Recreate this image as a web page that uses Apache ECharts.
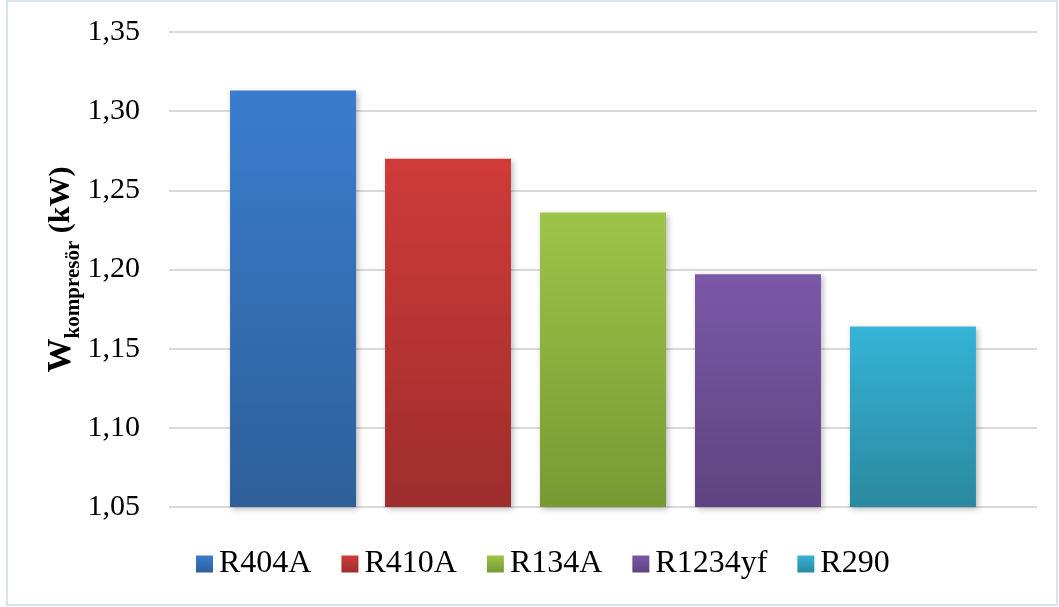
<!DOCTYPE html>
<html>
<head>
<meta charset="utf-8">
<script src="https://cdn.jsdelivr.net/npm/echarts@6/dist/echarts.min.js"></script>
<style>
  html, body { margin: 0; padding: 0; background: #fff; }
  #chart { width: 1059px; height: 607px; }
</style>
</head>
<body>
<div id="chart"></div>
<script>
// Refrigerants compared and their compressor power (kW)
const refrigerants = ['R404A', 'R410A', 'R134A', 'R1234yf', 'R290'];
const compressorPower = [1.313, 1.270, 1.236, 1.197, 1.164];
const yTicks = { min: 1.05, max: 1.35, step: 0.05 };

// Top and bottom shades of each bar's vertical gradient
const topColors = ['#3A7DCD', '#CF3B38', '#9CC548', '#7B58A8', '#36B3D6'];
const bottomColors = ['#2E5F9A', '#9E2D2D', '#779933', '#5E4380', '#2A89A0'];

const serif = 'Liberation Serif';

const series = refrigerants.map((name, i) => ({
  name: name,
  type: 'bar',
  data: [compressorPower[i]],
  barWidth: 126,
  barGap: '23%',
  itemStyle: {
    color: new echarts.graphic.LinearGradient(0, 0, 0, 1, [
      { offset: 0, color: topColors[i] },
      { offset: 1, color: bottomColors[i] }
    ]),
    shadowColor: 'rgba(0,0,0,0.28)',
    shadowBlur: 6,
    shadowOffsetX: 2,
    shadowOffsetY: 2
  }
}));

const chart = echarts.init(document.getElementById('chart'), null, { renderer: 'canvas' });
chart.setOption({
  animation: false,
  backgroundColor: '#fff',
  graphic: [{
    type: 'rect',
    shape: { x: 7, y: 1, width: 1050, height: 604 },
    style: { fill: 'none', stroke: '#D9E2F2', lineWidth: 2 },
    silent: true,
    z: -1
  }],
  grid: { left: 169, right: 22, top: 32, bottom: 100 },
  legend: {
    data: refrigerants,
    left: 196,
    top: 548,
    padding: 0,
    itemWidth: 17,
    itemHeight: 17,
    itemGap: 30,
    icon: 'rect',
    textStyle: { fontFamily: serif, fontSize: 32, color: '#000', padding: [0, 0, 0, 1] }
  },
  xAxis: {
    type: 'category',
    data: [''],
    axisLine: { show: false },
    axisTick: { show: false },
    axisLabel: { show: false }
  },
  yAxis: {
    type: 'value',
    min: yTicks.min,
    max: yTicks.max,
    interval: yTicks.step,
    axisLine: { show: false },
    axisTick: { show: false },
    axisLabel: {
      fontFamily: serif,
      fontSize: 30,
      color: '#000',
      margin: 29,
      formatter: v => v.toFixed(2).replace('.', ',')
    },
    splitLine: { lineStyle: { color: '#D9D9D9', width: 2 } },
    // W with subscript "kompresör", followed by the unit
    name: '{w|W}{s|kompresör}{u| (kW)}',
    nameLocation: 'middle',
    nameRotate: 90,
    nameGap: 88,
    nameMoveOverlap: false,
    nameTextStyle: {
      rich: {
        w: { fontFamily: serif, fontWeight: 'bold', fontSize: 34, color: '#000', lineHeight: 40, verticalAlign: 'middle' },
        s: { fontFamily: serif, fontWeight: 'bold', fontSize: 21, color: '#000', lineHeight: 40, verticalAlign: 'middle', padding: [26, 0, 0, 0] },
        u: { fontFamily: serif, fontWeight: 'bold', fontSize: 30, color: '#000', lineHeight: 40, verticalAlign: 'middle' }
      }
    }
  },
  series: series
});
</script>
</body>
</html>
